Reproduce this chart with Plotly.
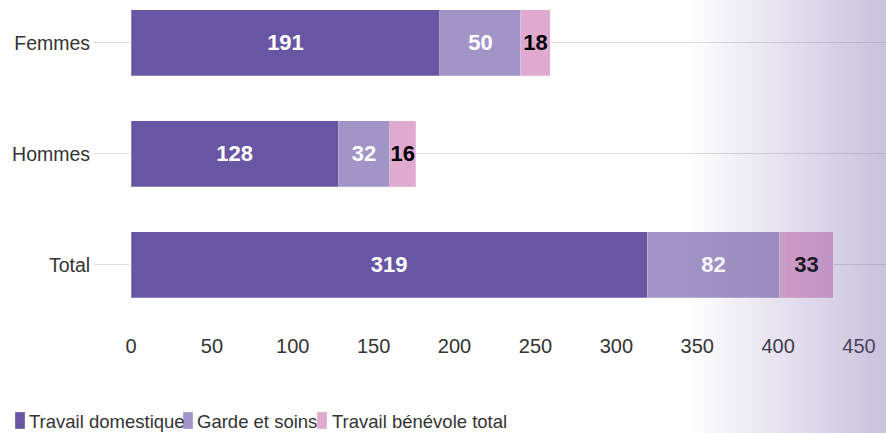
import base64
import struct
import zlib
import plotly.graph_objects as go

categories = ["Femmes", "Hommes", "Total"]
series_names = ["Travail domestique", "Garde et soins", "Travail bénévole total"]
travail_domestique = [191, 128, 319]
garde_soins = [50, 32, 82]
benevole = [18, 16, 33]
x_ticks = [0, 50, 100, 150, 200, 250, 300, 350, 400, 450]

colors = ["#6856a4", "#a294c6", "#e0a9cf"]
text_colors = ["white", "white", "black"]
values = [travail_domestique, garde_soins, benevole]

FONT = "Liberation Sans, Arial, sans-serif"
L, T, B, W, H = 131, 0, 101, 886, 433
PW, PH = W - L, H - T - B


def px_x(p):
    return (p - L) / PW


def px_y(p):
    return (PH + T - p) / PH


def gradient_png(width=256, rgb=(120, 100, 170), max_alpha=0.4):
    row = b"\x00" + b"".join(
        bytes([rgb[0], rgb[1], rgb[2], int(round(255 * max_alpha * i / (width - 1)))])
        for i in range(width))

    def chunk(tag, data):
        c = struct.pack(">I", len(data)) + tag + data
        return c + struct.pack(">I", zlib.crc32(tag + data) & 0xffffffff)

    png = b"\x89PNG\r\n\x1a\n"
    png += chunk(b"IHDR", struct.pack(">IIBBBBB", width, 1, 8, 6, 0, 0, 0))
    png += chunk(b"IDAT", zlib.compress(row))
    png += chunk(b"IEND", b"")
    return "data:image/png;base64," + base64.b64encode(png).decode()


fig = go.Figure()
for name, vals, col, tcol in zip(series_names, values, colors, text_colors):
    fig.add_trace(go.Bar(
        y=categories, x=vals, name=name, orientation="h",
        marker=dict(color=col, line=dict(color="rgba(255,255,255,0.25)", width=1)),
        text=[str(v) for v in vals], textposition="inside", textangle=0,
        insidetextanchor="middle", constraintext="none",
        textfont=dict(family=FONT, size=22, color=tcol, weight="bold"),
        hoverinfo="x+name", showlegend=False,
    ))

# manual legend (tight, like the reference)
legend_sym_x = [15, 183, 317]
legend_txt_x = [28, 196, 331]
shapes = []
annotations = []
for name, col, sx, tx in zip(series_names, colors, legend_sym_x, legend_txt_x):
    shapes.append(dict(type="rect", xref="paper", yref="paper",
                       x0=px_x(sx), x1=px_x(sx + 10), y0=px_y(429), y1=px_y(412),
                       fillcolor=col, line=dict(color="rgba(255,255,255,0.3)", width=1),
                       layer="above"))
    annotations.append(dict(text=name, xref="paper", yref="paper",
                            x=px_x(tx - 1), y=px_y(421), xanchor="left", yanchor="middle",
                            showarrow=False, font=dict(family=FONT, size=18.5, color="#333333")))

fig.update_layout(
    width=W, height=H,
    barmode="stack", bargap=0.405,
    margin=dict(l=L, r=0, t=T, b=B, autoexpand=False),
    paper_bgcolor="white", plot_bgcolor="white",
    font=dict(family=FONT, size=20, color="#333333"),
    showlegend=False,
    shapes=shapes,
    annotations=annotations,
    images=[dict(source=gradient_png(), xref="paper", yref="paper",
                 x=px_x(685), y=px_y(-5), sizex=px_x(W + 2) - px_x(685),
                 sizey=px_y(-5) - px_y(H + 5), xanchor="left", yanchor="top",
                 sizing="stretch", layer="above")],
    xaxis=dict(range=[0, 466.7], tickvals=x_ticks, showgrid=False, zeroline=False,
               showline=False, ticks="", automargin=False,
               tickfont=dict(size=20, color="#333333")),
    yaxis=dict(categoryorder="array", categoryarray=categories,
               range=[2.604, -0.387], showgrid=True, gridcolor="#dcdcdc", gridwidth=1,
               ticks="outside", ticklen=36, tickcolor="#dcdcdc", tickwidth=1,
               showline=False, zeroline=False, automargin=False,
               tickfont=dict(size=19.5, color="#333333")),
)

fig.write_html("out.html", config={"displayModeBar": False},
               post_script="document.body.style.margin='0';document.body.style.overflow='hidden';")
